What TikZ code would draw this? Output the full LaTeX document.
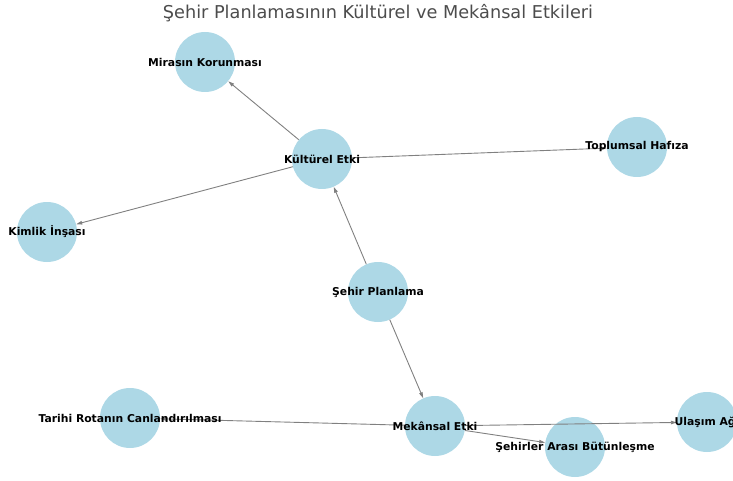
\documentclass[tikz,border=0pt]{standalone}
\usepackage{fontspec}
\setmainfont{DejaVu Sans}
\usetikzlibrary{arrows.meta}
\definecolor{nodeblue}{HTML}{ADD8E6}
\begin{document}
\begin{tikzpicture}[x=1pt, y=-1pt,
    dot/.style={circle, fill=nodeblue, minimum size=60pt, inner sep=0pt},
    lbl/.style={font=\bfseries\fontsize{10.8}{12}\selectfont, inner sep=0pt},
    edge/.style={draw=gray, line width=0.9pt, -{Triangle[length=6pt,width=3.5pt]}}]
  \useasboundingbox (0,0) rectangle (733,481);

  % Title
  \node[font=\fontsize{17.7}{20}\selectfont, text=black!70] (title) at (378,13) {Şehir Planlamasının Kültürel ve Mekânsal Etkileri};

  % Circles
  \node[dot] (plan) at (378,292) {};
  \node[dot] (kultur) at (322,159) {};
  \node[dot] (mekan) at (435,426) {};
  \node[dot] (miras) at (205,62) {};
  \node[dot] (hafiza) at (637,147) {};
  \node[dot] (kimlik) at (47,232) {};
  \node[dot] (rota) at (130,418) {};
  \node[dot] (ulasim) at (707,422) {};
  \node[dot] (butun) at (575,447) {};

  % Edges
  \draw[edge] (plan) -- (kultur);
  \draw[edge] (plan) -- (mekan);
  \draw[edge] (kultur) -- (miras);
  \draw[edge] (kultur) -- (hafiza);
  \draw[edge] (kultur) -- (kimlik);
  \draw[edge] (mekan) -- (rota);
  \draw[edge] (mekan) -- (ulasim);
  \draw[edge] (mekan) -- (butun);

  % Labels
  \node[lbl] (plan-l) at (plan) {Şehir Planlama};
  \node[lbl] (kultur-l) at (kultur) {Kültürel Etki};
  \node[lbl] (mekan-l) at (mekan) {Mekânsal Etki};
  \node[lbl] (miras-l) at (miras) {Mirasın Korunması};
  \node[lbl] (hafiza-l) at (hafiza) {Toplumsal Hafıza};
  \node[lbl] (kimlik-l) at (kimlik) {Kimlik İnşası};
  \node[lbl] (rota-l) at (rota) {Tarihi Rotanın Canlandırılması};
  \node[lbl] (ulasim-l) at (ulasim) {Ulaşım Ağı};
  \node[lbl] (butun-l) at (butun) {Şehirler Arası Bütünleşme};
\end{tikzpicture}
\end{document}
